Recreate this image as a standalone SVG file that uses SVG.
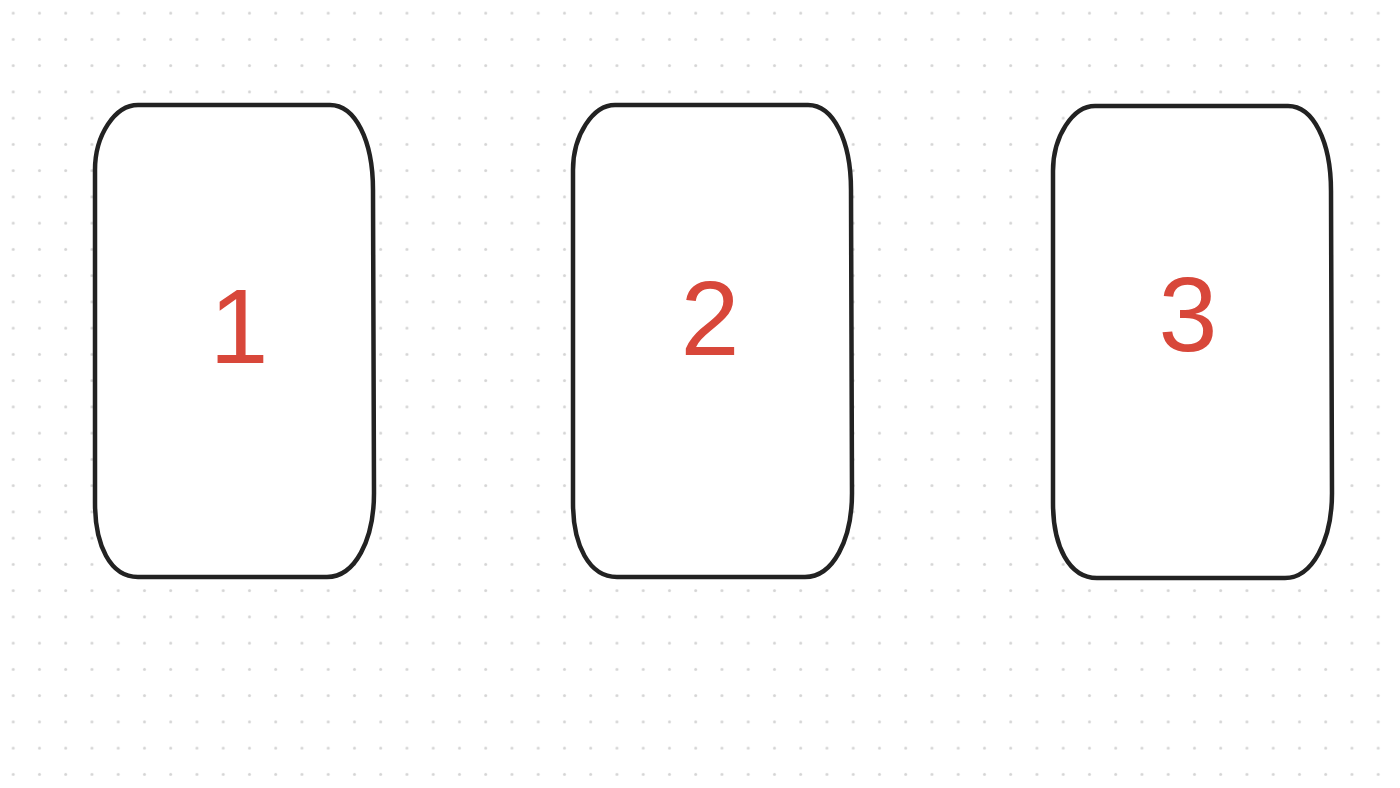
<svg xmlns="http://www.w3.org/2000/svg" width="1400" height="788" viewBox="0 0 1400 788">
  <style>
    .card { fill: #ffffff; stroke: #222222; stroke-width: 4.5; stroke-linejoin: round; }
    .num { font-family: "Liberation Sans", Arial, sans-serif; font-size: 106px; fill: #d8473a; text-anchor: middle; }
  </style>
  <defs>
    <pattern id="dots" patternUnits="userSpaceOnUse" width="26.25" height="26.25">
      <circle cx="13.2" cy="13.2" r="1.5" fill="#d4d4d4"/>
    </pattern>
  </defs>
  <rect width="1400" height="788" fill="#ffffff"/>
  <rect width="1400" height="788" fill="url(#dots)"/>
  <g id="connectors"></g>
  <g id="node1">
    <path class="card" d="M 138,105 L 330,105 C 355,105 373,140 373,190 L 374,493 C 374,540 355,577 327,577 L 138,577 C 110,577 95,545 95,503 L 95,170 C 95,135 115,105 138,105 Z"/>
    <text class="num" x="239" y="363">1</text>
  </g>
  <g id="node2">
    <path class="card" d="M 615,105 L 808,105 C 833,105 851,140 851,190 L 852,493 C 852,540 833,577 805,577 L 617,577 C 589,577 573,545 573,503 L 573,170 C 573,135 593,105 615,105 Z"/>
    <text class="num" x="710" y="355">2</text>
  </g>
  <g id="node3">
    <path class="card" d="M 1095,106 L 1288,106 C 1313,106 1331,141 1331,191 L 1332,493 C 1332,541 1312,578 1285,578 L 1097,578 C 1069,578 1053,546 1053,503 L 1053,171 C 1053,136 1073,106 1095,106 Z"/>
    <text class="num" x="1188" y="351">3</text>
  </g>
</svg>
